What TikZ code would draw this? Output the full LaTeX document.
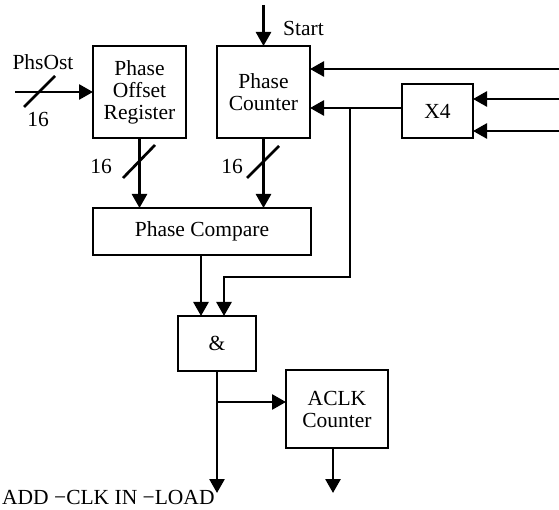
\documentclass[tikz,border=0pt]{standalone}
\usepackage{fontspec}
\setmainfont{Liberation Serif}
\usetikzlibrary{arrows.meta}
\tikzset{
  blk/.style={draw, line width=2.7pt, inner sep=0pt, outer sep=0pt, align=center, font=\fontsize{21.5}{22}\selectfont},
  wire/.style={line width=2.7pt},
  arr/.style={wire, -{Triangle[length=14pt,width=15pt]}},
  lbl/.style={font=\fontsize{21.5}{22}\selectfont, inner sep=0pt},
}
\begin{document}
\begin{tikzpicture}[x=1pt,y=-1pt]
\useasboundingbox (0,0) rectangle (559,510);
% blocks
\node[blk, minimum width=93pt, minimum height=92pt] (por) at (139.5,92) {Phase\\Offset\\Register};
\node[blk, minimum width=93pt, minimum height=92pt] (pc) at (263.5,92) {Phase\\Counter};
\node[blk, minimum width=71pt, minimum height=54pt] (x4) at (437.5,111) {X4};
\node[blk, minimum width=218pt, minimum height=47pt] (cmp) at (202,231.5) {Phase Compare};
\node[blk, minimum width=78pt, minimum height=55pt] (and) at (217,343.5) {\&};
\node[blk, minimum width=102pt, minimum height=78pt] (aclk) at (337,409) {ACLK\\Counter};
% free ends
\coordinate (st) at (263.5,5);
\coordinate (ph) at (15,92);
\coordinate (r1) at (559,69);
\coordinate (r2) at (559,99);
\coordinate (r3) at (559,131);
\coordinate (br) at (350,108);
\coordinate (bc) at (350,277);
\coordinate (bl) at (224,277);
\coordinate (o1) at (217,493);
\coordinate (o2) at (333,493);
\coordinate (bj) at (217,402);
\coordinate (cx) at (201,0);
% labels
\node[lbl, anchor=west] (start) at (283,28) {Start};
\node[lbl] (phsost) at (43,62) {PhsOst};
\node[lbl] (n1) at (38,119) {16};
\node[lbl] (n2) at (101,166) {16};
\node[lbl] (n3) at (232,166) {16};
\node[lbl, anchor=base west] (bot) at (2,504) {ADD −CLK IN −LOAD};
% connectors
\draw[arr] (st) -- (pc.north);
\draw[arr] (ph) -- (por.west);
\draw[arr] (por.south) -- (por.south |- cmp.north);
\draw[arr] (pc.south) -- (pc.south |- cmp.north);
\draw[arr] (r1) -- (r1 -| pc.east);
\draw[arr] (r2) -- (r2 -| x4.east);
\draw[arr] (r3) -- (r3 -| x4.east);
\draw[arr] (br -| x4.west) -- (br -| pc.east);
\draw[arr] (br) -- (bc) -- (bl) -- (bl |- and.north);
\draw[arr] (cx |- cmp.south) -- (cx |- and.north);
\draw[arr] (and.south) -- (o1);
\draw[arr] (bj) -- (bj -| aclk.west);
\draw[arr] (o2 |- aclk.south) -- (o2);
% bus slashes
\draw[wire] (24,107) -- (55,76);
\draw[wire] (123,178) -- (155,145);
\draw[wire] (247,178) -- (279,146);
\end{tikzpicture}
\end{document}
